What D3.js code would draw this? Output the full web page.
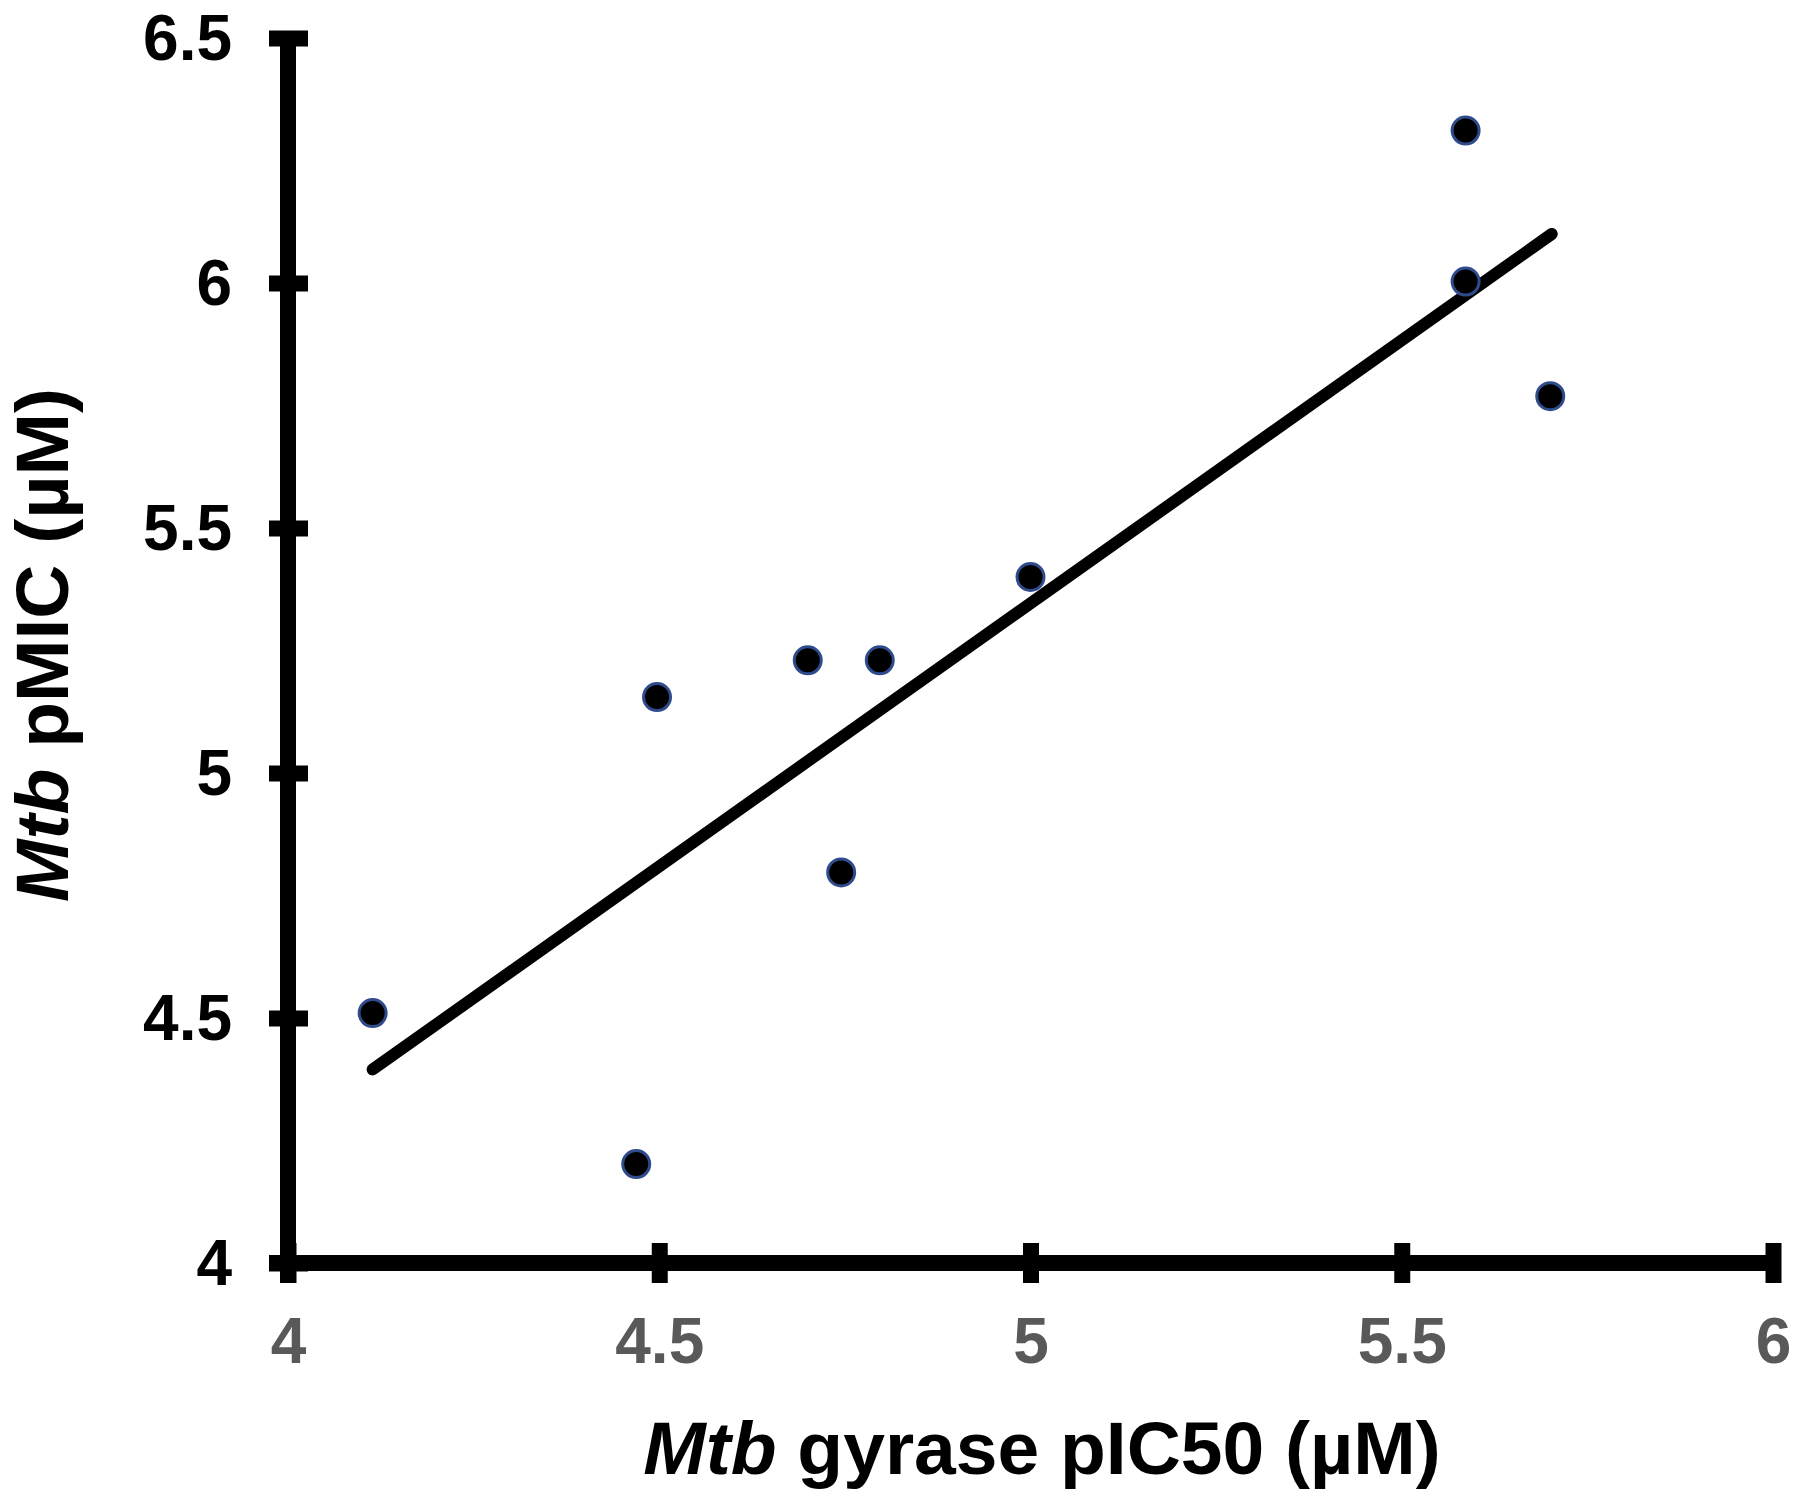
<!DOCTYPE html>
<html>
<head>
<meta charset="utf-8">
<script src="https://cdn.jsdelivr.net/npm/d3@7"></script>
<style>
  html, body { margin: 0; padding: 0; background: #fff; }
  svg { display: block; }
  text { font-family: "Liberation Sans", Arial, sans-serif; font-weight: bold; }
</style>
</head>
<body>
<svg id="chart" width="1800" height="1502"></svg>
<script>
// Data
const gyrasePIC50 = [5.586, 5.586, 5.70, 5.00, 4.70, 4.797, 4.497, 4.745, 4.114, 4.469];
const mtbPMIC     = [6.311, 6.003, 5.769, 5.40, 5.23, 5.23, 5.155, 4.797, 4.51, 4.202];
const trendX = [4.114, 5.702];
const trendY = [4.395, 6.10];
const xTicks = [4, 4.5, 5, 5.5, 6];
const yTicks = [4, 4.5, 5, 5.5, 6, 6.5];

const svg = d3.select("#chart");
const x = d3.scaleLinear().domain([4, 6]).range([288, 1773]);
const y = d3.scaleLinear().domain([4, 6.5]).range([1263, 38]);

// X axis
const gx = svg.append("g").attr("transform", `translate(0,${y(4)})`)
  .call(d3.axisBottom(x).tickValues(xTicks).tickSizeOuter(0).tickSizeInner(20).tickFormat(d => d));
gx.select(".domain").attr("stroke", "#000").attr("stroke-width", 16).attr("d", `M${x(4)-19},0H${x(6)}`);
gx.selectAll(".tick line").attr("stroke", "#000").attr("stroke-width", 16).attr("y1", -20).attr("y2", 20);
gx.selectAll(".tick text").attr("y", 100).attr("dy", 0)
  .attr("fill", "#595959").attr("font-size", 64).attr("font-family", "Liberation Sans, Arial, sans-serif")
  .attr("font-weight", "bold");

// Y axis
const gy = svg.append("g").attr("transform", `translate(${x(4)},0)`)
  .call(d3.axisLeft(y).tickValues(yTicks).tickSizeOuter(0).tickSizeInner(19).tickFormat(d => d));
gy.select(".domain").attr("stroke", "#000").attr("stroke-width", 16).attr("d", `M0,${y(6.5)}V${y(4)+20}`);
gy.selectAll(".tick line").attr("stroke", "#000").attr("stroke-width", 16).attr("x1", -19).attr("x2", 20);
gy.selectAll(".tick text").attr("x", -56).attr("dy", "0.33em")
  .attr("fill", "#000").attr("font-size", 64).attr("font-family", "Liberation Sans, Arial, sans-serif")
  .attr("font-weight", "bold");

// Trend line
const lineData = trendX.map((v, i) => [v, trendY[i]]);
svg.append("path")
  .datum(lineData)
  .attr("d", d3.line().x(d => x(d[0])).y(d => y(d[1])))
  .attr("fill", "none").attr("stroke", "#000").attr("stroke-width", 12).attr("stroke-linecap", "round");

// Points
const pts = gyrasePIC50.map((v, i) => ({ x: v, y: mtbPMIC[i] }));
svg.append("g").selectAll("circle").data(pts).join("circle")
  .attr("cx", d => x(d.x)).attr("cy", d => y(d.y)).attr("r", 13.5)
  .attr("fill", "#000").attr("stroke", "#2f4b8c").attr("stroke-width", 3);

// X title
const xt = svg.append("text").attr("x", 1042).attr("y", 1474).attr("text-anchor", "middle")
  .attr("font-size", 75).attr("fill", "#000");
xt.append("tspan").attr("font-style", "italic").text("Mtb");
xt.append("tspan").text(" gyrase pIC50 (µM)");

// Y title
const yt = svg.append("text").attr("transform", "translate(68,645) rotate(-90)").attr("text-anchor", "middle")
  .attr("font-size", 75).attr("fill", "#000");
yt.append("tspan").attr("font-style", "italic").text("Mtb");
yt.append("tspan").text(" pMIC (µM)");
</script>
</body>
</html>
